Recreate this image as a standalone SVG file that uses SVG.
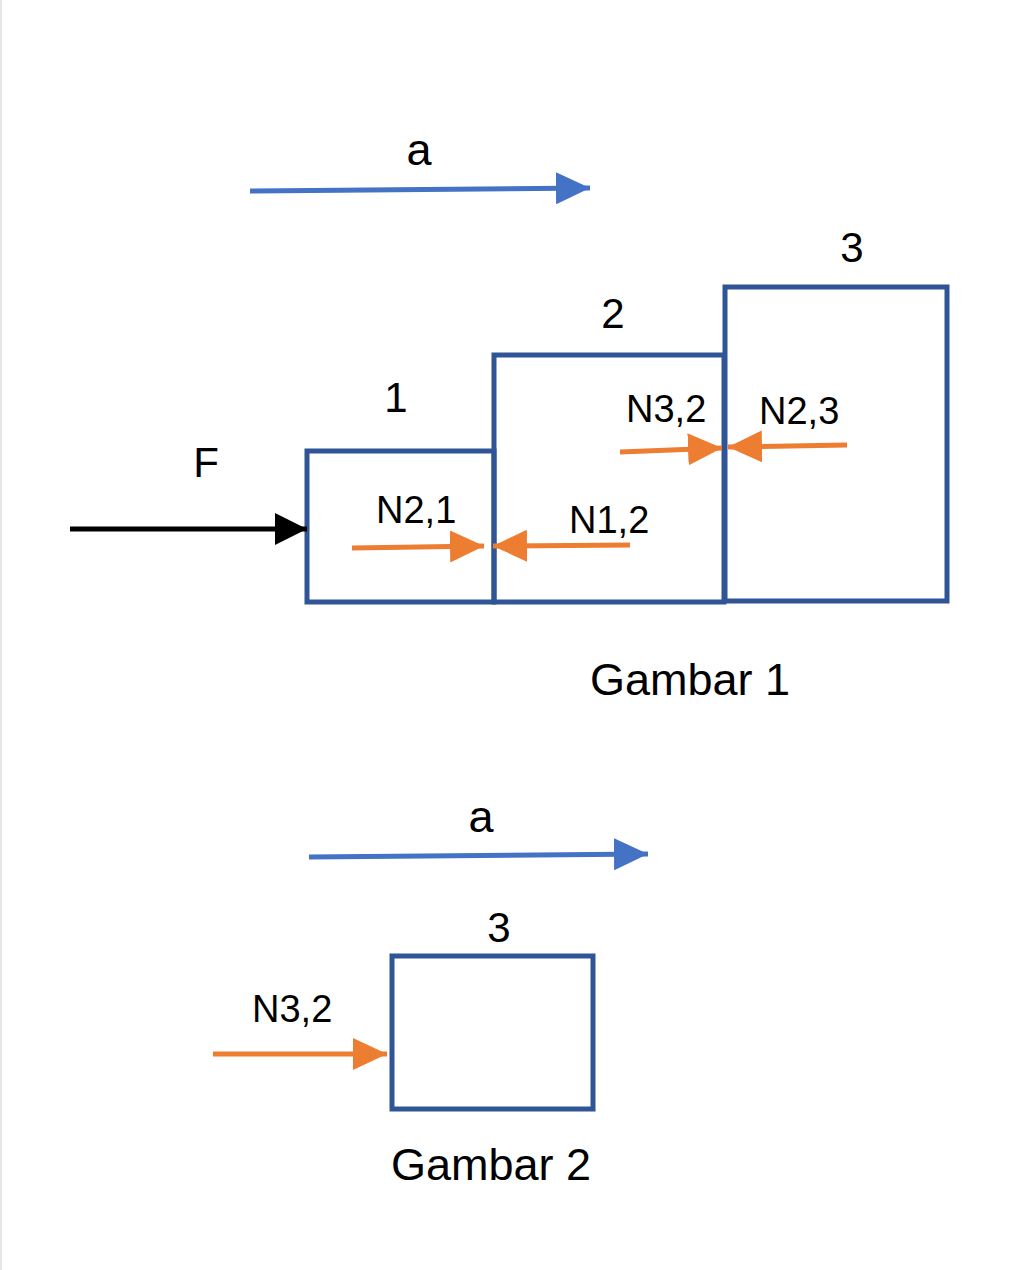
<svg xmlns="http://www.w3.org/2000/svg" width="1024" height="1270" viewBox="0 0 1024 1270">
<style>
  .box { fill: none; stroke: #2F5597; stroke-width: 5; }
  .lbl { font-family: "Liberation Sans", Arial, sans-serif; fill: #000; }
  .big { font-size: 45px; }
  .num { font-size: 42px; }
  .n { font-size: 38px; }
  .blue { stroke: #4472C4; stroke-width: 5; fill: none; }
  .orange { stroke: #ED7D31; stroke-width: 5; fill: none; }
  .black { stroke: #000; stroke-width: 5; fill: none; }
</style>
<defs>
  <marker id="hBlue" viewBox="0 0 34 32" markerWidth="34" markerHeight="32" refX="34" refY="16" orient="auto" markerUnits="userSpaceOnUse">
    <path d="M0,0 L34,16 L0,32 z" fill="#4472C4"/>
  </marker>
  <marker id="hOrange" viewBox="0 0 34 32" markerWidth="34" markerHeight="32" refX="34" refY="16" orient="auto" markerUnits="userSpaceOnUse">
    <path d="M0,0 L34,16 L0,32 z" fill="#ED7D31"/>
  </marker>
  <marker id="hBlack" viewBox="0 0 32 32" markerWidth="32" markerHeight="32" refX="32" refY="16" orient="auto" markerUnits="userSpaceOnUse">
    <path d="M0,0 L32,16 L0,32 z" fill="#000"/>
  </marker>
</defs>
<rect width="1024" height="1270" fill="#fff"/>
<line x1="1" y1="0" x2="1" y2="1270" stroke="#dddddd" stroke-width="1.5"/>

<g id="block1">
  <rect class="box" x="307" y="451" width="187" height="151"/>
  <text class="lbl num" x="396" y="412" text-anchor="middle">1</text>
</g>
<g id="block2">
  <rect class="box" x="494" y="355" width="230" height="247"/>
  <text class="lbl num" x="613" y="328" text-anchor="middle">2</text>
</g>
<g id="block3">
  <rect class="box" x="725" y="287" width="222" height="314"/>
  <text class="lbl num" x="852" y="262" text-anchor="middle">3</text>
</g>
<g id="block3b">
  <rect class="box" x="392" y="956" width="201" height="153"/>
  <text class="lbl num" x="499" y="942" text-anchor="middle">3</text>
</g>

<g id="connectors">
  <path class="blue" d="M250,191 L590,188" marker-end="url(#hBlue)"/>
  <path class="blue" d="M309,857 L648,854" marker-end="url(#hBlue)"/>
  <path class="black" d="M70,529 L307,529" marker-end="url(#hBlack)"/>
  <path class="orange" d="M352,548 L484,546" marker-end="url(#hOrange)"/>
  <path class="orange" d="M630,545 L493,546" marker-end="url(#hOrange)"/>
  <path class="orange" d="M620,452 L722,448" marker-end="url(#hOrange)"/>
  <path class="orange" d="M847,445 L728,447" marker-end="url(#hOrange)"/>
  <path class="orange" d="M213,1054 L387,1054" marker-end="url(#hOrange)"/>
</g>

<g id="labels">
  <text class="lbl big" x="419" y="165" text-anchor="middle">a</text>
  <text class="lbl big" x="481" y="832" text-anchor="middle">a</text>
  <text class="lbl" font-size="42" x="206" y="477" text-anchor="middle">F</text>
  <text class="lbl n" x="376" y="523">N2,1</text>
  <text class="lbl n" x="569" y="533">N1,2</text>
  <text class="lbl n" x="626" y="422">N3,2</text>
  <text class="lbl n" x="759" y="424">N2,3</text>
  <text class="lbl n" x="252" y="1022">N3,2</text>
  <text class="lbl big" x="590" y="695">Gambar 1</text>
  <text class="lbl big" x="391" y="1180">Gambar 2</text>
</g>
</svg>
